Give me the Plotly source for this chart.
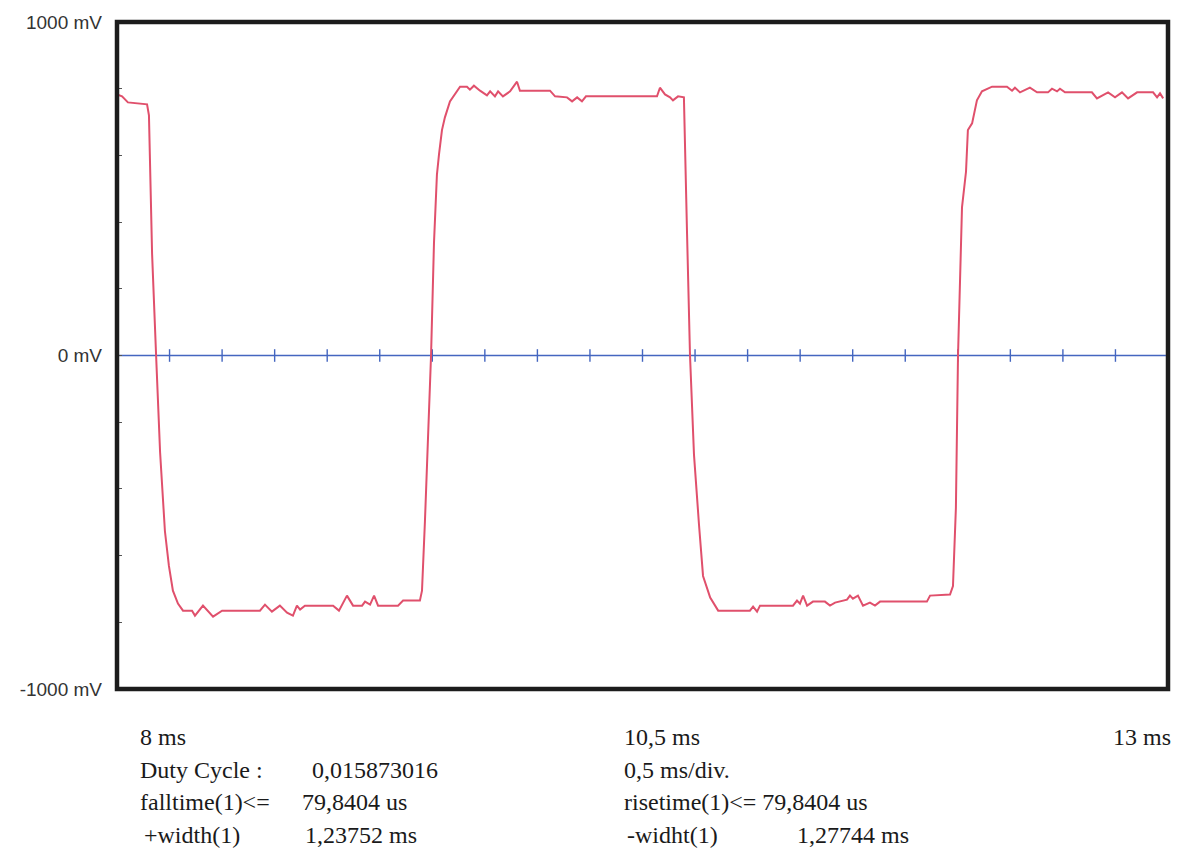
import plotly.graph_objects as go

# ---- data (time in ms, voltage in mV) ----
red_t = [8.000, 8.024, 8.052, 8.143, 8.152, 8.167, 8.186, 8.205, 8.228, 8.247, 8.266, 8.290, 8.314,
         8.357, 8.371, 8.409, 8.457, 8.500, 8.680, 8.704, 8.737, 8.775, 8.809, 8.837, 8.856, 8.871,
         8.894, 9.028, 9.056, 9.094, 9.123, 9.166, 9.180, 9.204, 9.223, 9.242, 9.337, 9.361, 9.441,
         9.451, 9.465, 9.484, 9.494, 9.508, 9.522, 9.532, 9.546, 9.560, 9.584, 9.632, 9.665, 9.679,
         9.698, 9.727, 9.760, 9.775, 9.798, 9.813, 9.836, 9.870, 9.903, 9.917, 10.060, 10.084, 10.141,
         10.165, 10.189, 10.212, 10.231, 10.569, 10.583, 10.607, 10.631, 10.645, 10.669, 10.697,
         10.702, 10.712, 10.726, 10.745, 10.769, 10.788, 10.822, 10.860, 11.011, 11.026, 11.045,
         11.059, 11.216, 11.235, 11.249, 11.264, 11.283, 11.311, 11.368, 11.392, 11.416, 11.473,
         11.487, 11.501, 11.525, 11.549, 11.582, 11.606, 11.630, 11.853, 11.868, 11.963, 11.977,
         11.991, 12.001, 12.010, 12.020, 12.039, 12.048, 12.068, 12.091, 12.115, 12.163, 12.234,
         12.258, 12.272, 12.296, 12.343, 12.377, 12.429, 12.448, 12.472, 12.486, 12.510, 12.638,
         12.662, 12.691, 12.715, 12.748, 12.781, 12.810, 12.853, 12.929, 12.948, 12.962, 12.977]
red_v = [783, 777, 759, 753, 720, 304, 0, -290, -527, -631, -705, -744, -765,
         -765, -780, -750, -783, -765, -765, -747, -768, -750, -771, -780, -750, -762,
         -750, -750, -765, -720, -750, -750, -738, -747, -720, -750, -750, -735, -735,
         -705, -497, -192, 0, 337, 542, 604, 676, 714, 762, 806, 806, 797,
         809, 794, 780, 792, 777, 792, 777, 792, 821, 794, 794, 777, 774,
         762, 774, 762, 777, 777, 803, 783, 774, 765, 777, 774,
         604, 364, 0, -298, -509, -661, -726, -765, -765, -753, -768,
         -750, -750, -735, -744, -720, -750, -738, -738, -750, -741, -732,
         -720, -729, -720, -750, -741, -750, -738, -738, -720, -717, -691,
         -456, 0, 245, 444, 551, 676, 696, 765, 792, 806, 806,
         794, 803, 789, 803, 789, 789, 800, 792, 800, 789, 789,
         771, 780, 789, 774, 789, 771, 789, 789, 774, 786, 771]

blue_t = [8.0, 12.99]
blue_v = [0, 0]
blue_marks_t = [8.25, 8.5, 8.75, 9.0, 9.25, 9.5, 9.75, 10.0, 10.25, 10.5, 10.75, 11.0,
                11.25, 11.5, 11.75, 12.0, 12.25, 12.5, 12.75]
blue_marks_v = [0] * len(blue_marks_t)

y_ticks = [-1000, 0, 1000]
y_labels = ["-1000 mV", "0 mV", "1000 mV"]

time_labels = ["8 ms", "10,5 ms", "13 ms"]
info_left = [("Duty Cycle :", "0,015873016"), ("falltime(1)<=", "79,8404 us"), ("+width(1)", "1,23752 ms")]
info_right = ["0,5 ms/div.", "risetime(1)<= 79,8404 us", "-widht(1)", "1,27744 ms"]

# ---- figure ----
BLUE = "#4466c0"
RED = "#e0506c"
fig = go.Figure()
fig.add_trace(go.Scatter(x=blue_t, y=blue_v, mode="lines",
                         line=dict(color=BLUE, width=1.6), hoverinfo="skip"))
fig.add_trace(go.Scatter(x=blue_marks_t, y=blue_marks_v, mode="markers",
                         marker=dict(symbol="line-ns-open", size=9, color=BLUE,
                                     line=dict(color=BLUE, width=1.4)),
                         hoverinfo="skip"))
fig.add_trace(go.Scatter(x=red_t, y=red_v, mode="lines",
                         line=dict(color=RED, width=2), hoverinfo="skip"))

L, R, T, B = 117, 13, 16, 170
W, H = 1181, 859
pw, ph = W - L - R, H - T - B

def px(x):
    return (x - L) / pw

def py(y):
    return (H - B - y) / ph

serif = dict(family="Liberation Serif, Times New Roman, serif", size=24, color="#1a1a1a")
ann = []
ann.append(dict(text=time_labels[0], x=px(138), y=py(737), xanchor="left"))
ann.append(dict(text=time_labels[1], x=px(622), y=py(737), xanchor="left"))
ann.append(dict(text=time_labels[2], x=px(1173), y=py(737), xanchor="right"))
rows_y = [771, 803, 836]
left_x = [(138, 310), (138, 300), (142, 303)]
for (lab, val), yy, (x1, x2) in zip(info_left, rows_y, left_x):
    ann.append(dict(text=lab, x=px(x1), y=py(yy), xanchor="left"))
    ann.append(dict(text=val, x=px(x2), y=py(yy), xanchor="left"))
ann.append(dict(text=info_right[0], x=px(622), y=py(771), xanchor="left"))
ann.append(dict(text=info_right[1], x=px(622), y=py(803), xanchor="left"))
ann.append(dict(text=info_right[2], x=px(625), y=py(836), xanchor="left"))
ann.append(dict(text=info_right[3], x=px(795), y=py(836), xanchor="left"))
for a in ann:
    a.update(xref="paper", yref="paper", yanchor="middle", showarrow=False, font=serif)

fig.update_layout(
    width=W, height=H,
    margin=dict(l=L, r=R, t=T, b=B),
    paper_bgcolor="white", plot_bgcolor="white",
    showlegend=False,
    annotations=ann,
    xaxis=dict(range=[8, 13], showgrid=False, zeroline=False, showticklabels=False,
               ticks="", showline=False, fixedrange=True),
    yaxis=dict(range=[-1000, 1000], showgrid=False, zeroline=False,
               tickvals=y_ticks, ticktext=y_labels, ticks="", ticklabelstandoff=14,
               tickfont=dict(family="Liberation Sans, Arial, sans-serif", size=19, color="#333333"),
               minor=dict(dtick=200, ticks="inside", ticklen=5, tickwidth=1.2, tickcolor="#555555"),
               showline=False, fixedrange=True),
    shapes=[dict(type="rect", xref="paper", yref="paper", x0=0, x1=1, y0=0, y1=1,
                 line=dict(color="#1c1c1c", width=4.5), layer="above")],
)

fig.write_html("out.html")
